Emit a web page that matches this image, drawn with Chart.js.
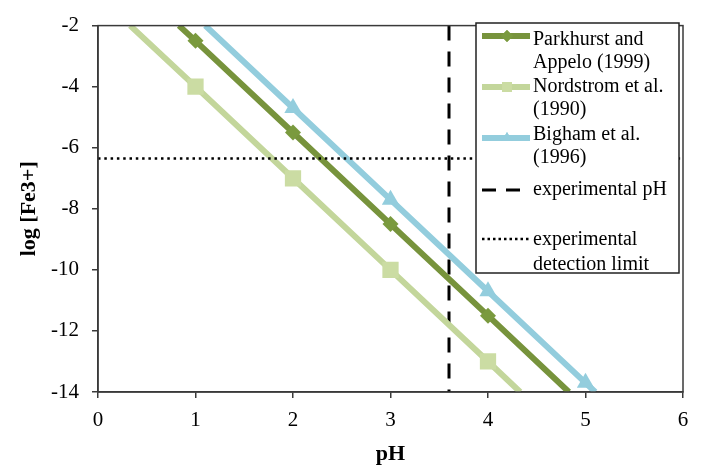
<!DOCTYPE html>
<html>
<head>
<meta charset="utf-8">
<script src="https://cdn.jsdelivr.net/npm/chart.js@4/dist/chart.umd.min.js"></script>
<style>
  html, body { margin: 0; padding: 0; background: #fff; }
  #wrap { width: 701px; height: 465px; position: relative; }
</style>
</head>
<body>
<div id="wrap"><canvas id="myChart"></canvas></div>
<script>
// pH positions and log[Fe3+] values (end points are where each line meets the plot frame)
var parkhurstPH = [0.83, 1, 2, 3, 4, 4.83];
var parkhurstLog = [-2, -2.5, -5.5, -8.5, -11.5, -14];
var nordstromPH = [0.33, 1, 2, 3, 4, 4.33];
var nordstromLog = [-2, -4, -7, -10, -13, -14];
var bighamPH = [1.1, 2, 3, 4, 5, 5.1];
var bighamLog = [-2, -4.7, -7.7, -10.7, -13.7, -14];
var experimentalPH = 3.6;
var detectionLimit = -6.35;
var xTicks = [0, 1, 2, 3, 4, 5, 6];
var yTicks = [-14, -12, -10, -8, -6, -4, -2];

var seriesNames = ["Parkhurst and\nAppelo (1999)", "Nordstrom et al.\n(1990)", "Bigham et al.\n(1996)"];
var colors = ["#77933c", "#c3d69b", "#93cddd"];
var markerColors = ["#7a9a3e", "#cbdca3", "#93cddd"];

function pts(xs, ys) {
  return xs.map(function (x, i) { return { x: x, y: ys[i] }; });
}
function radii(n, r) {
  var a = [];
  for (var i = 0; i < n; i++) a.push(i === 0 || i === n - 1 ? 0 : r);
  return a;
}

var serif = "'Liberation Serif', 'Times New Roman', serif";

var legendPlugin = {
  id: "boxLegend",
  afterDraw: function (chart) {
    var c = chart.ctx;
    var a = chart.chartArea;
    c.save();
    // frame around plot
    c.strokeStyle = "#3a3a3a";
    c.lineWidth = 1.5;
    c.strokeRect(a.left, a.top, a.right - a.left, a.bottom - a.top);

    // legend box
    var bx = 476, by = 23, bw = 203, bh = 250;
    c.fillStyle = "#fff";
    c.fillRect(bx, by, bw, bh);
    c.strokeStyle = "#222";
    c.lineWidth = 1.5;
    c.strokeRect(bx, by, bw, bh);

    c.font = "20px " + serif;
    c.fillStyle = "#000";
    c.textBaseline = "middle";
    c.textAlign = "left";
    var tx = 533, x0 = 482, x1 = 530, mx = 507;
    var rows = [
      { y: 36, text: [40, 63], idx: 0, style: "rectRot", r: 6 },
      { y: 87, text: [87, 110], idx: 1, style: "rect", r: 7 },
      { y: 138, text: [135, 158], idx: 2, style: "triangle", r: 6 }
    ];
    rows.forEach(function (row) {
      c.strokeStyle = colors[row.idx];
      c.lineWidth = 6;
      c.setLineDash([]);
      c.beginPath();
      c.moveTo(x0, row.y);
      c.lineTo(x1, row.y);
      c.stroke();
      c.fillStyle = markerColors[row.idx];
      Chart.helpers.drawPoint(c, { pointStyle: row.style, radius: row.r, borderWidth: 0 }, mx, row.y);
      c.fill();
      c.fillStyle = "#000";
      var lines = seriesNames[row.idx].split("\n");
      c.fillText(lines[0], tx, row.text[0]);
      c.fillText(lines[1], tx, row.text[1]);
    });
    // experimental pH
    c.strokeStyle = "#000";
    c.lineWidth = 3;
    c.setLineDash([14, 10]);
    c.beginPath();
    c.moveTo(x0, 190);
    c.lineTo(x1, 190);
    c.stroke();
    c.fillText("experimental pH", tx, 190);
    // detection limit
    c.lineWidth = 2.5;
    c.setLineDash([2.5, 3]);
    c.beginPath();
    c.moveTo(x0, 239);
    c.lineTo(x1, 239);
    c.stroke();
    c.setLineDash([]);
    c.fillText("experimental", tx, 240);
    c.fillText("detection limit", tx, 265);
    c.restore();
  }
};

var ctx = document.getElementById("myChart").getContext("2d");
var data = {
  datasets: [
    {
      label: "experimental detection limit",
      data: pts([0, 6], [detectionLimit, detectionLimit]),
      borderColor: "#000",
      borderWidth: 2.5,
      borderDash: [2.5, 3.8],
      pointRadius: 0,
      showLine: true
    },
    {
      label: "Parkhurst and Appelo (1999)",
      data: pts(parkhurstPH, parkhurstLog),
      borderColor: colors[0],
      backgroundColor: markerColors[0],
      borderWidth: 6,
      pointStyle: "rectRot",
      pointRadius: radii(parkhurstPH.length, 8),
      pointBorderWidth: 0,
      showLine: true
    },
    {
      label: "Nordstrom et al. (1990)",
      data: pts(nordstromPH, nordstromLog),
      borderColor: colors[1],
      backgroundColor: markerColors[1],
      borderWidth: 6,
      pointStyle: "rect",
      pointRadius: radii(nordstromPH.length, 11.5),
      pointBorderWidth: 0,
      showLine: true
    },
    {
      label: "Bigham et al. (1996)",
      data: pts(bighamPH, bighamLog),
      borderColor: colors[2],
      backgroundColor: markerColors[2],
      borderWidth: 6,
      pointStyle: "triangle",
      pointRadius: radii(bighamPH.length, 10),
      pointBorderWidth: 0,
      showLine: true
    },
    {
      label: "experimental pH",
      data: pts([experimentalPH, experimentalPH], [-2, -14]),
      borderColor: "#000",
      borderWidth: 3,
      borderDash: [15, 11],
      pointRadius: 0,
      showLine: true
    }
  ]
};

var options = {
  responsive: true,
  maintainAspectRatio: false,
  animation: false,
  layout: { padding: { top: 19, right: 18, left: 0, bottom: 0 } },
  plugins: {
    legend: { display: false },
    tooltip: { enabled: false }
  },
  scales: {
    x: {
      type: "linear",
      min: 0,
      max: 6,
      afterFit: function (s) { s.height = 73; },
      afterBuildTicks: function (s) { s.ticks = xTicks.map(function (v) { return { value: v }; }); },
      grid: { display: true, drawOnChartArea: false, drawTicks: true, tickLength: 6, color: "#3a3a3a", lineWidth: 1.5 },
      border: { display: true, color: "#3a3a3a", width: 1.5 },
      ticks: { color: "#000", padding: 10, font: { family: serif, size: 21 } },
      title: { display: true, text: "pH", color: "#000", padding: { top: 0, bottom: 0 }, font: { family: serif, size: 22, weight: "bold", lineHeight: 1 } }
    },
    y: {
      type: "linear",
      min: -14,
      max: -2,
      afterFit: function (s) { s.width = 98; },
      afterBuildTicks: function (s) { s.ticks = yTicks.map(function (v) { return { value: v }; }); },
      grid: { display: true, drawOnChartArea: false, drawTicks: true, tickLength: 6, color: "#3a3a3a", lineWidth: 1.5 },
      border: { display: true, color: "#3a3a3a", width: 1.5 },
      ticks: { color: "#000", padding: 13, font: { family: serif, size: 21 } },
      title: { display: true, text: "log [Fe3+]", color: "#000", padding: { top: 18, bottom: 0 }, font: { family: serif, size: 22, weight: "bold", lineHeight: 1 } }
    }
  }
};

var myChart = new Chart(ctx, {
  type: "scatter",
  data: data,
  options: options,
  plugins: [legendPlugin]
});
</script>
</body>
</html>
